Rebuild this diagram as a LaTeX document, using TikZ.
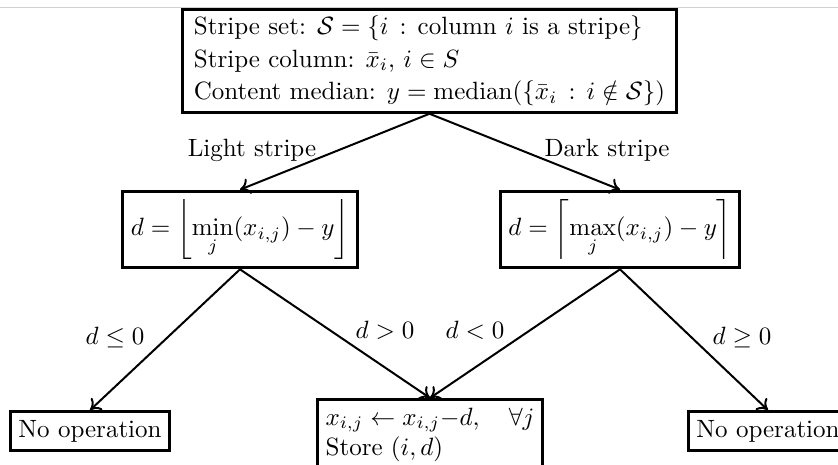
\documentclass[tikz,border=0pt]{standalone}
\usepackage{amsmath,amssymb}
\usetikzlibrary{arrows.meta}
\begin{document}
\begin{tikzpicture}[x=0.4pt,y=-0.4pt,
  box/.style={draw, line width=1.2pt, rectangle, align=left},
  conn/.style={line width=0.8pt, -{To[length=4pt,width=6.5pt]}},
  lbl/.style={inner sep=1pt}]
\useasboundingbox (0,0) rectangle (838,465);
\draw[gray!35, line width=0.4pt] (0,8) -- (838,8);
\node[box, inner xsep=4.5pt, inner ysep=2.5pt] (top) at (429.5,61) {Stripe set: $\mathcal{S}=\{i\,:\,\text{column } i \text{ is a stripe}\}$\\[1pt]
Stripe column: $\bar{x}_i,\, i\in S$\\[1pt]
Content median: $y=\mathrm{median}(\{\bar{x}_i\,:\,i\notin\mathcal{S}\})$};
\node[box] (lmid) at (240,229.5) {$\displaystyle d=\left\lfloor \min_j(x_{i,j})-y\right\rfloor$};
\node[box] (rmid) at (620,229.5) {$\displaystyle d=\left\lceil \max_j(x_{i,j})-y\right\rceil$};
\node[box] (lno) at (90,431) {No operation};
\node[box] (rno) at (768,431) {No operation};
\node[box, anchor=north] (mid) at (430,398) {$x_{i,j}\leftarrow x_{i,j}{-}d,\quad\forall j$\\ Store $(i,d)$};
\draw[conn] (top.south) -- (lmid.north);
\draw[conn] (top.south) -- (rmid.north);
\draw[conn] (lmid.south) -- (lno.north);
\draw[conn] (lmid.south) -- (mid.north);
\draw[conn] (rmid.south) -- (mid.north);
\draw[conn] (rmid.south) -- (rno.north);
\node[lbl] (l1) at (252,150) {Light stripe};
\node[lbl] (l2) at (607,150) {Dark stripe};
\node[lbl] (l3) at (115,338) {$d\le 0$};
\node[lbl] (l4) at (385,330) {$d>0$};
\node[lbl] (l5) at (475,330) {$d<0$};
\node[lbl] (l6) at (742,338) {$d\ge 0$};
\end{tikzpicture}
\end{document}
